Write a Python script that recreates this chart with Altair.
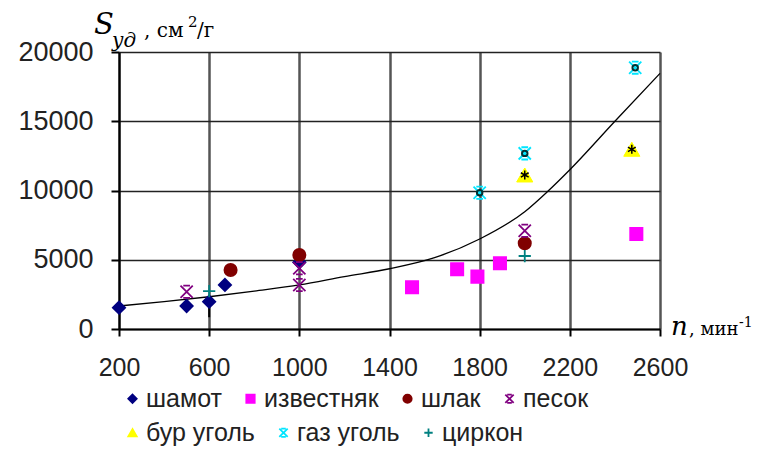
import altair as alt
import pandas as pd

# ---------------- data ----------------
shamot_x = [200, 500, 600, 670, 1000]
shamot_y = [1540, 1660, 1970, 3180, 4815]
izv_x = [1500, 1700, 1790, 1890, 2495]
izv_y = [3010, 4310, 3780, 4740, 6860]
shlak_x = [695, 1000, 2000]
shlak_y = [4260, 5340, 6190]
pesok_x = [500, 1000, 1000, 2000]
pesok_y = [2690, 4380, 3180, 7100]
bur_x = [2000, 2475]
bur_y = [11120, 12975]
gaz_x = [1800, 2000, 2490]
gaz_y = [9840, 12680, 18870]
cirkon_x = [600, 2000]
cirkon_y = [2740, 5270]

trend_x = [200, 400, 600, 800, 1000, 1200, 1400, 1600, 1800, 2000, 2100, 2200, 2400, 2600]
trend_y = [1660, 1970, 2330, 2740, 3180, 3780, 4350, 5150, 6500, 8470, 9910, 11500, 15000, 18460]

err_x = [600]
err_lo = [850]
err_hi = [1950]

row1_names = ["шамот", "известняк", "шлак", "песок"]
row2_names = ["бур уголь", "газ уголь", "циркон"]

x_ticks = [200, 600, 1000, 1400, 1800, 2200, 2600]
y_ticks = [0, 5000, 10000, 15000, 20000]

# ---------------- tables ----------------
def frame(name, xs, ys):
    return pd.DataFrame({"x": xs, "y": ys, "series": [name] * len(xs)})

row1 = pd.concat([frame("шамот", shamot_x, shamot_y),
                  frame("известняк", izv_x, izv_y),
                  frame("шлак", shlak_x, shlak_y),
                  frame("песок", pesok_x, pesok_y)], ignore_index=True)
row2 = pd.concat([frame("бур уголь", bur_x, bur_y),
                  frame("газ уголь", gaz_x, gaz_y),
                  frame("циркон", cirkon_x, cirkon_y)], ignore_index=True)
trend = pd.DataFrame({"x": trend_x, "y": trend_y})
err = pd.DataFrame({"x": err_x, "y": err_lo, "y2": err_hi})
bur = pd.DataFrame({"x": bur_x, "y": bur_y})
gaz = pd.DataFrame({"x": gaz_x, "y": gaz_y})

XBAR = "M-1,-1L1,1M1,-1L-1,1M-0.55,-1H0.55M-0.55,1H0.55"
PLUS = "M-1,0H1M0,-1V1"
ASTER = "M0,-1V1M-0.87,-0.5L0.87,0.5M0.87,-0.5L-0.87,0.5"

SANS = "Liberation Sans"
SERIF = "DejaVu Serif, Liberation Serif, serif"

x_enc = alt.X("x:Q", title=None,
              scale=alt.Scale(domain=[200, 2600], nice=False, zero=False),
              axis=alt.Axis(values=x_ticks, format="d", labelFont=SANS, labelFontSize=25,
                            labelColor="#222", labelPadding=19, tickSize=7, tickWidth=2,
                            tickColor="black", domainColor="black", domainWidth=2,
                            gridColor="#555", gridWidth=2.5, labelFlush=False))
y_enc = alt.Y("y:Q", title=None,
              scale=alt.Scale(domain=[0, 20000], nice=False),
              axis=alt.Axis(values=y_ticks, format="d", labelFont=SANS, labelFontSize=27,
                            labelColor="#222", labelPadding=18, tickSize=8, tickWidth=2,
                            tickColor="black", domainColor="black", domainWidth=2,
                            gridColor="#222", gridWidth=1.5))


def legend(lx, ly):
    return alt.Legend(title=None, orient="none", legendX=lx, legendY=ly,
                      direction="horizontal", labelFont=SANS, labelFontSize=25,
                      labelColor="#222", symbolSize=70, symbolStrokeWidth=1.8,
                      columnPadding=16, labelOffset=1, padding=0)


def series_layer(df, names, shapes, fills, strokes, lg):
    return alt.Chart(df).mark_point(size=150, strokeWidth=1.8, opacity=1).encode(
        x=x_enc, y=y_enc,
        shape=alt.Shape("series:N", scale=alt.Scale(domain=names, range=shapes), legend=lg),
        fill=alt.Fill("series:N", scale=alt.Scale(domain=names, range=fills), legend=lg),
        stroke=alt.Stroke("series:N", scale=alt.Scale(domain=names, range=strokes), legend=lg),
    )


trend_line = alt.Chart(trend).mark_line(color="black", strokeWidth=1.3,
                                        interpolate="monotone").encode(x=x_enc, y=y_enc)
err_rule = alt.Chart(err).mark_rule(color="black", strokeWidth=2).encode(
    x=x_enc, y=y_enc, y2="y2:Q")

layer1 = series_layer(row1, row1_names,
                      ["diamond", "square", "circle", XBAR],
                      ["#000080", "#FF00FF", "#800000", "transparent"],
                      ["#000080", "#FF00FF", "#800000", "#800080"],
                      legend(1, 334))
layer2 = series_layer(row2, row2_names,
                      ["triangle-up", XBAR, PLUS],
                      ["#FFFF00", "transparent", "transparent"],
                      ["#FFFF00", "#00E5FF", "#008080"],
                      legend(1, 368))

bur_tri = alt.Chart(bur).mark_point(shape="triangle-up", size=260, fill="#FFFF00", stroke="#FFFF00",
                                    strokeWidth=1, filled=True, opacity=1).encode(x=x_enc, y=y_enc)
bur_star = alt.Chart(bur).mark_point(shape=ASTER, size=80, stroke="black",
                                     strokeWidth=1.5, filled=False, opacity=1).encode(x=x_enc, y=y_enc)
gaz_ring = alt.Chart(gaz).mark_point(shape="circle", size=30, stroke="#003333",
                                     strokeWidth=2, filled=False, opacity=1).encode(x=x_enc, y=y_enc)

dummy = pd.DataFrame({"a": [0]})


def label(txt, px, py, size, font=SERIF, italic=False):
    return alt.Chart(dummy).mark_text(
        font=font, fontSize=size, fontStyle="italic" if italic else "normal",
        align="left", baseline="alphabetic", color="black").encode(
        x=alt.value(px), y=alt.value(py), text=alt.value(txt))


texts = [
    label("S", -25, -18, 29, italic=True),
    label("уд", -7, -5, 20, italic=True),
    label(", см", 25, -15, 20),
    label("2", 69, -25, 15),
    label("/г", 78, -15, 20),
    label("n", 552, 283, 26, italic=True),
    label(", мин", 570, 283, 18),
    label("-1", 620, 275, 14),
]

chart = alt.layer(trend_line, err_rule, layer1, layer2, bur_tri, bur_star, gaz_ring, *texts).resolve_scale(
    shape="independent", fill="independent", stroke="independent"
).properties(
    width=541, height=277,
    autosize=alt.AutoSizeParams(type="none"),
    padding={"left": 111, "top": 44, "right": 95, "bottom": 117},
    background="white",
).configure_view(stroke=None)

chart.save("out.html", embed_options={"renderer": "svg", "actions": False})
